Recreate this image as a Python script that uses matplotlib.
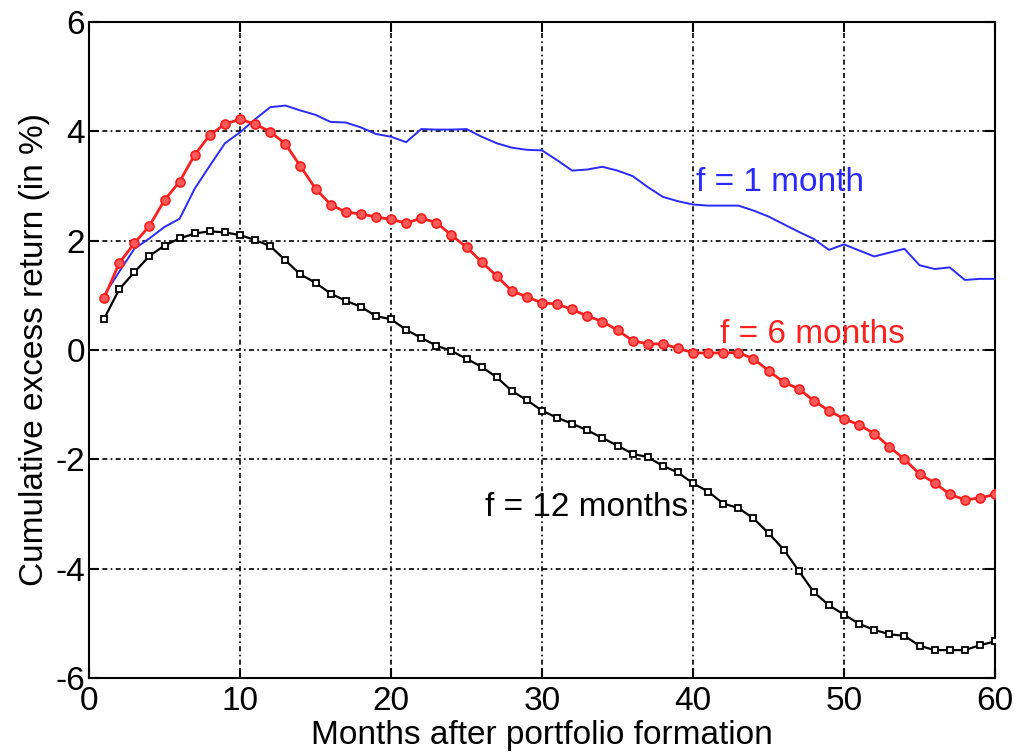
import matplotlib
matplotlib.use("Agg")
import matplotlib.pyplot as plt
import numpy as np

months = list(range(1, 61))

f1_month = [1.00, 1.43, 1.85, 2.04, 2.25, 2.40, 2.95, 3.37, 3.78, 3.98,
            4.22, 4.44, 4.47, 4.38, 4.30, 4.17, 4.16, 4.07, 3.95, 3.90,
            3.80, 4.04, 4.03, 4.03, 4.04, 3.90, 3.78, 3.70, 3.66, 3.65,
            3.47, 3.28, 3.30, 3.35, 3.28, 3.18, 2.98, 2.80, 2.72, 2.66,
            2.64, 2.64, 2.64, 2.55, 2.44, 2.30, 2.16, 2.03, 1.83, 1.93,
            1.82, 1.71, 1.78, 1.85, 1.55, 1.48, 1.51, 1.28, 1.30, 1.30]

f6_months = [0.95, 1.59, 1.95, 2.27, 2.74, 3.08, 3.57, 3.93, 4.13, 4.22,
             4.13, 3.99, 3.77, 3.36, 2.95, 2.66, 2.52, 2.49, 2.43, 2.39,
             2.32, 2.41, 2.33, 2.10, 1.88, 1.61, 1.35, 1.08, 0.97, 0.86,
             0.84, 0.74, 0.62, 0.52, 0.36, 0.17, 0.11, 0.11, 0.03, -0.05,
             -0.06, -0.05, -0.05, -0.16, -0.38, -0.59, -0.71, -0.93, -1.11, -1.26,
             -1.37, -1.53, -1.77, -2.00, -2.27, -2.43, -2.64, -2.74, -2.71, -2.64]

f12_months = [0.57, 1.11, 1.42, 1.72, 1.91, 2.04, 2.13, 2.17, 2.15, 2.10,
              2.01, 1.90, 1.64, 1.38, 1.23, 1.03, 0.90, 0.79, 0.62, 0.56,
              0.37, 0.22, 0.08, -0.02, -0.16, -0.31, -0.50, -0.75, -0.92, -1.11,
              -1.24, -1.35, -1.47, -1.61, -1.75, -1.90, -1.96, -2.12, -2.24, -2.44,
              -2.59, -2.81, -2.89, -3.08, -3.35, -3.65, -4.04, -4.43, -4.67, -4.84,
              -5.01, -5.12, -5.20, -5.23, -5.41, -5.49, -5.49, -5.49, -5.40, -5.33]

xticks = [0, 10, 20, 30, 40, 50, 60]
yticks = [-6, -4, -2, 0, 2, 4, 6]

plt.rcParams['font.family'] = ['Liberation Sans', 'DejaVu Sans']
plt.rcParams['axes.unicode_minus'] = False

fig = plt.figure(figsize=(10.14, 7.55), dpi=100)
ax = fig.add_axes([0.0878, 0.102, 0.8935, 0.869])

ax.plot(months, f1_month, color='#2a2aff', lw=1.4, zorder=3)
ax.plot(months, f6_months, color='#ff2020', lw=2.0, marker='o', ms=6.5,
        mfc='#ff5a5a', mec='#ff1a1a', mew=1.2, zorder=4)
ax.plot(months, f12_months, color='black', lw=1.6, marker='s', ms=5,
        mfc='white', mec='black', mew=1.3, zorder=5)

ax.set_xlim(0, 60)
ax.set_ylim(-6, 6)
ax.set_xticks(xticks)
ax.set_yticks(yticks)
ax.grid(True, color='black', lw=1.2, linestyle=(0, (3, 2, 1, 2)))
ax.tick_params(direction='in', length=7, width=1.5, labelsize=24,
               top=True, right=True, pad=6)
ax.tick_params(axis='y', pad=3)
for s in ax.spines.values():
    s.set_linewidth(1.5)

ax.set_xlabel('Months after portfolio formation', fontsize=24, labelpad=2)
ax.set_ylabel('Cumulative excess return (in %)', fontsize=24, labelpad=4)

ax.text(40.2, 2.9, 'f = 1 month', color='#2a2aff', fontsize=24, va='baseline')
ax.text(41.8, 0.13, 'f = 6 months', color='#ff2020', fontsize=24, va='baseline')
ax.text(26.2, -3.03, 'f = 12 months', color='black', fontsize=24, va='baseline')

fig.savefig('out.png', dpi=100)
